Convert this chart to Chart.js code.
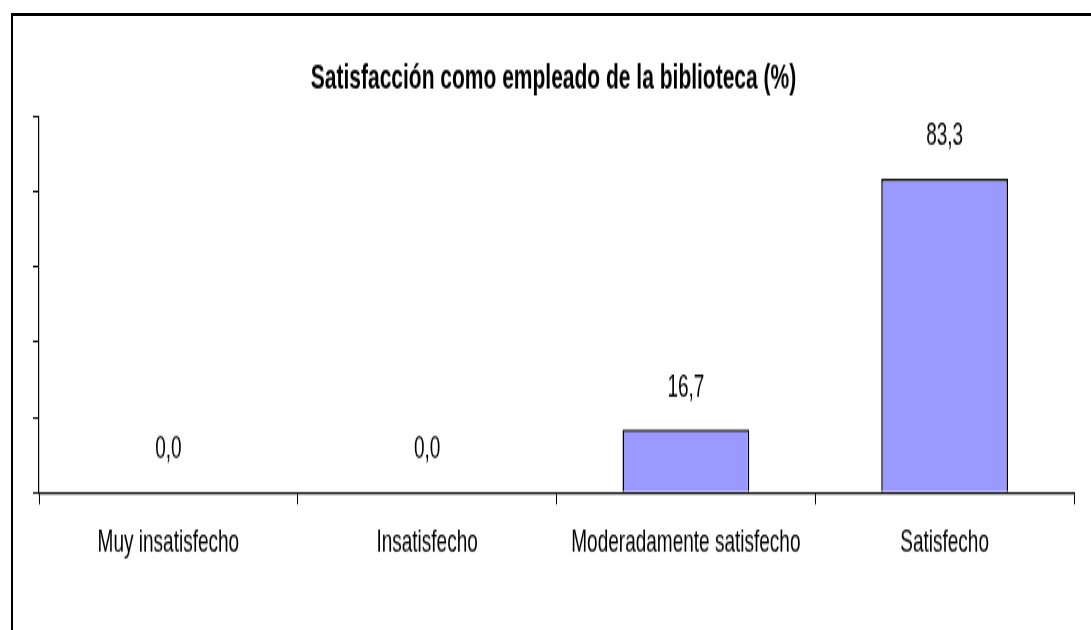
<!DOCTYPE html>
<html>
<head>
<meta charset="utf-8">
<script src="https://cdn.jsdelivr.net/npm/chart.js@4"></script>
<style>
  html, body { margin: 0; padding: 0; background: #fff; }
  #marco {
    position: absolute; left: 11px; top: 13px; width: 1080px; height: 617px;
    border-top: 3px solid #000; border-left: 2px solid #000;
  }
  #grafico { position: absolute; left: 0; top: 0; }
</style>
</head>
<body>
<div id="marco"></div>
<!-- el gráfico original está estirado en vertical: se dibuja a 370px de alto y se estira a 630 -->
<canvas id="grafico" width="1091" height="370" style="width:1091px;height:630px"></canvas>
<script>
// Datos del gráfico
const categorias = ['Muy insatisfecho', 'Insatisfecho', 'Moderadamente satisfecho', 'Satisfecho'];
const porcentajes = [0.0, 0.0, 16.7, 83.3];
const titulo = 'Satisfacción como empleado de la biblioteca (%)';

const fuente = "'Liberation Sans', Arial, sans-serif";

// Etiquetas de valor encima de cada barra (0,0 con coma decimal)
const etiquetasValor = {
  id: 'etiquetasValor',
  afterDatasetsDraw(chart) {
    const ctx = chart.ctx;
    const meta = chart.getDatasetMeta(0);
    ctx.save();
    ctx.font = `19px ${fuente}`;
    ctx.fillStyle = '#000';
    ctx.textAlign = 'center';
    ctx.textBaseline = 'middle';
    meta.data.forEach((bar, i) => {
      const txt = porcentajes[i].toFixed(1).replace('.', ',');
      ctx.fillText(txt, bar.x, bar.y - 25);
    });
    ctx.restore();
  }
};

const ctx = document.getElementById('grafico').getContext('2d');
new Chart(ctx, {
  type: 'bar',
  data: {
    labels: categorias,
    datasets: [{
      data: porcentajes,
      backgroundColor: '#9999ff',
      borderColor: '#000',
      borderWidth: 1.5,
      categoryPercentage: 1,
      barPercentage: 0.49
    }]
  },
  options: {
    responsive: false,
    animation: false,
    layout: { padding: { left: 33, right: 17, top: 0, bottom: 29 } },
    scales: {
      x: {
        grid: { display: true, drawOnChartArea: false, tickLength: 7, color: '#000', offset: true },
        border: { color: '#000', width: 1.2 },
        ticks: { color: '#000', font: { family: fuente, size: 19 }, padding: 11, maxRotation: 0 }
      },
      y: {
        min: 0,
        max: 100,
        grid: { display: true, drawOnChartArea: false, tickLength: 6, color: '#000' },
        border: { color: '#000', width: 1.2 },
        ticks: { display: false, stepSize: 20 }
      }
    },
    plugins: {
      legend: { display: false },
      tooltip: { enabled: false },
      title: {
        display: true,
        text: titulo,
        color: '#000',
        font: { family: fuente, size: 21, weight: 'bold' },
        padding: { top: 34, bottom: 9 }
      }
    }
  },
  plugins: [etiquetasValor]
});
</script>
</body>
</html>
